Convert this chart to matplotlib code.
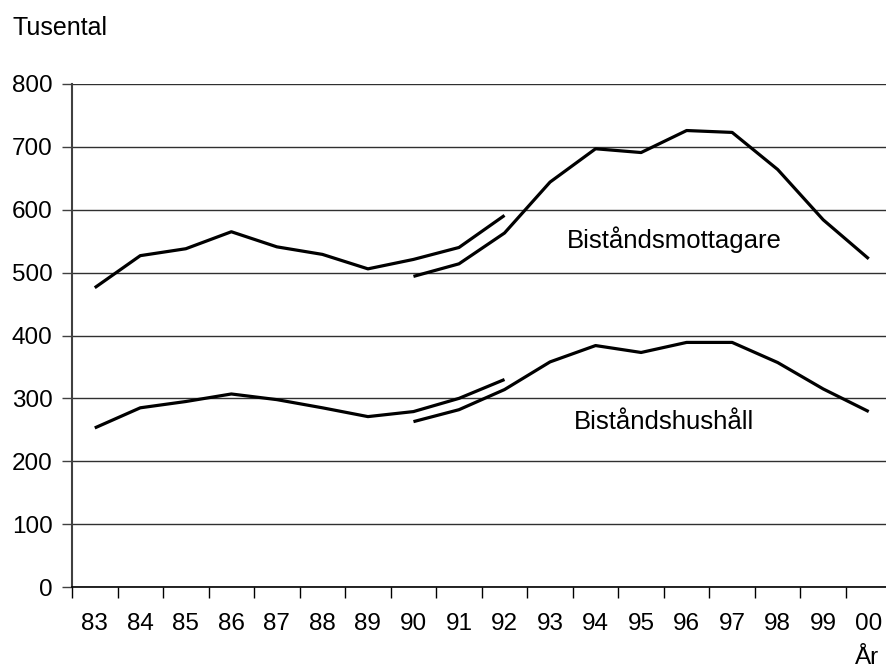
import numpy as np
import matplotlib.pyplot as plt

# Data (tusental)
years = ['83', '84', '85', '86', '87', '88', '89', '90', '91',
         '92', '93', '94', '95', '96', '97', '98', '99', '00']
# gammal serie 83-92, ny serie 90-00
mott_old = [476, 527, 538, 565, 541, 529, 506, 521, 540, 591]
mott_new = [494, 514, 563, 644, 697, 691, 726, 723, 664, 584, 522]
hush_old = [253, 285, 295, 307, 298, 285, 271, 279, 300, 330]
hush_new = [263, 282, 314, 358, 384, 373, 389, 389, 357, 315, 279]

plt.rcParams['font.family'] = ['Liberation Sans', 'DejaVu Sans']
fs = 17.5

fig = plt.figure(figsize=(8.87, 6.68), dpi=100)
ax = fig.add_axes([72 / 887, 81 / 668, 819.5 / 887, 503 / 668])

x_old = np.arange(len(mott_old))
x_new = np.arange(7, 7 + len(mott_new))
lw = 2.3
ax.plot(x_old, mott_old, color='black', lw=lw, solid_capstyle='butt')
ax.plot(x_new, mott_new, color='black', lw=lw, solid_capstyle='butt')
ax.plot(x_old, hush_old, color='black', lw=lw, solid_capstyle='butt')
ax.plot(x_new, hush_new, color='black', lw=lw, solid_capstyle='butt')

ax.text(10.37, 552, 'Biståndsmottagare', fontsize=18.5, ha='left', va='center')
ax.text(10.53, 262, 'Biståndshushåll', fontsize=18.5, ha='left', va='center')

ax.set_xlim(-0.5, len(years) - 0.5)
ax.set_ylim(0, 800)

# gridlines
ax.set_yticks(range(0, 801, 100))
ax.yaxis.grid(True, color='#303030', lw=1.0)
ax.set_axisbelow(True)
ax.tick_params(axis='y', length=7, width=1, color='#404040', pad=7, labelsize=fs)

# x: ticks between categories, labels centred
ax.set_xticks(np.arange(-0.5, len(years), 1.0))
ax.set_xticklabels([])
ax.set_xticks(np.arange(len(years)), minor=True)
ax.set_xticklabels(years, minor=True)
ax.tick_params(axis='x', which='major', length=8, width=1, color='black', direction='out')
ax.tick_params(axis='x', which='minor', length=0, pad=19, labelsize=fs)

for s in ['top', 'right']:
    ax.spines[s].set_visible(False)
ax.spines['left'].set_color('#404040')
ax.spines['left'].set_linewidth(1.5)
ax.spines['bottom'].set_color('black')
ax.spines['bottom'].set_linewidth(1.2)

fig.text(13 / 887, 1 - 28 / 668, 'Tusental', fontsize=18, ha='left', va='center')
fig.text(867 / 887, 1 - 658 / 668, 'År', fontsize=fs, ha='center', va='center')

fig.savefig('out.png', dpi=100)
